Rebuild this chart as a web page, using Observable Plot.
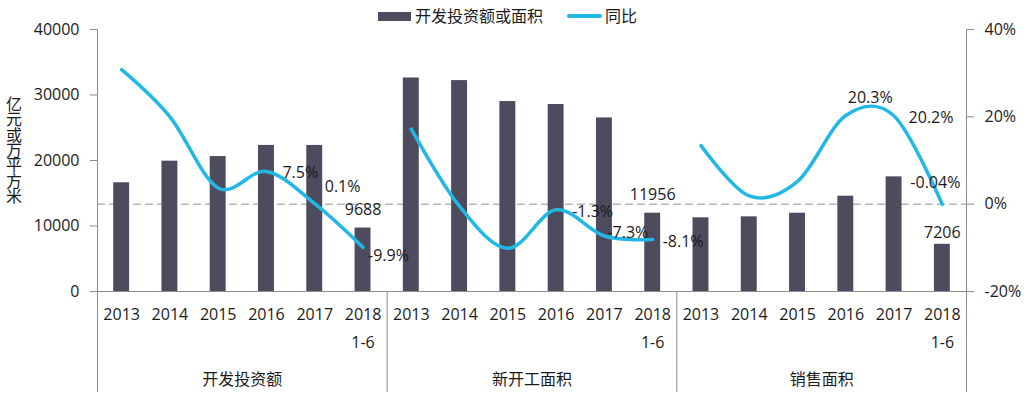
<!DOCTYPE html>
<html>
<head>
<meta charset="utf-8">
<script src="https://cdn.jsdelivr.net/npm/d3@7"></script>
<script src="https://cdn.jsdelivr.net/npm/@observablehq/plot@0.6"></script>
<style>
  html, body { margin: 0; padding: 0; background: #fff; }
  body { font-family: "Open Sans", "Noto Sans CJK SC", sans-serif; color: #1a1a1a; }
  #wrap { position: relative; width: 1030px; height: 399px; overflow: hidden; }
  #wrap svg { position: absolute; left: 0; top: 0; }
  #legend { position: absolute; left: 378px; top: 5px; display: flex; align-items: center; font-size: 16px; line-height: 22px; white-space: nowrap; }
  #legend .bar { display: inline-block; width: 33px; height: 9px; background: #4d4c5e; margin-right: 4px; }
  #legend .ln { display: inline-block; width: 35px; height: 4px; border-radius: 2px; background: #22b8e6; margin-left: 24px; margin-right: 3px; }
  #ytitle { position: absolute; left: 5px; top: 96px; writing-mode: vertical-rl; font-family: "Noto Sans CJK SC", sans-serif; font-size: 16px; line-height: 17px; letter-spacing: -0.7px; }
</style>
</head>
<body>
<div id="wrap">
  <div id="chart"></div>
  <div id="legend"><span class="bar"></span><span>开发投资额或面积</span><span class="ln"></span><span>同比</span></div>
  <div id="ytitle"></div>
</div>
<script>
// ---- data ----
const groups = ["开发投资额", "新开工面积", "销售面积"];
const years = ["2013", "2014", "2015", "2016", "2017", "2018"];
const yearLabels = ["2013", "2014", "2015", "2016", "2017", "2018\n1-6"];
const investValues = [16600, 19900, 20600, 22300, 22300, 9688];
const newStartValues = [32600, 32200, 29000, 28550, 26500, 11956];
const salesValues = [11250, 11400, 11950, 14550, 17500, 7206];
const investYoY = [30.8, 20.0, 3.7, 7.5, 0.1, -9.9];
const newStartYoY = [17.2, -0.5, -10.1, -1.3, -7.3, -8.1];
const salesYoY = [13.4, 1.9, 5.2, 20.3, 20.2, -0.04];
const leftTicks = [0, 10000, 20000, 30000, 40000];
const rightTicks = [-20, 0, 20, 40];
const labeledYoYYears = ["2016", "2017", "2018"];
const labeledBarYears = ["2018"];
const yTitle = "亿元或万平方米";

// ---- layout (label nudges, pixels) ----
const yoyLabelNudge = [[16, 1], [10, -17], [5, 8], [16, 2], [3, -3.5], [10, 2], [2, -18], [14.5, 2], [-32, -21.5]];
const barLabelNudge = [-18.5, -18.7, -11.3];

const W = 1030, H = 399, ML = 97, MR = 64, MT = 29, MB = 108;
const leftMax = leftTicks[leftTicks.length - 1];
const pMin = rightTicks[0], pMax = rightTicks[rightTicks.length - 1];
const pctToY = p => (p - pMin) / (pMax - pMin) * leftMax;
const yToPct = v => Math.round(v / leftMax * (pMax - pMin) + pMin);

const valueSets = [investValues, newStartValues, salesValues];
const yoySets = [investYoY, newStartYoY, salesYoY];
const rows = groups.flatMap((g, gi) => years.map((yr, i) => ({
  key: g + "|" + yr, group: g, year: yr, tick: yearLabels[i],
  value: valueSets[gi][i], pct: yoySets[gi][i], yp: pctToY(yoySets[gi][i])
})));
const keys = rows.map(d => d.key);
const tickOf = Object.fromEntries(rows.map(d => [d.key, d.tick]));
const step = (W - ML - MR) / keys.length;

const yoyLabels = rows.filter(d => labeledYoYYears.includes(d.year));
const barLabels = rows.filter(d => labeledBarYears.includes(d.year));

const font = '"Open Sans", "Noto Sans CJK SC", sans-serif';
const axisGray = "#8c8c8c";

const plot = Plot.plot({
  width: W, height: H,
  marginLeft: ML, marginRight: MR, marginTop: MT, marginBottom: MB,
  style: { fontFamily: font, fontSize: "16px", color: "#1a1a1a", background: "transparent", overflow: "visible" },
  x: { type: "band", domain: keys, paddingInner: 0.67, paddingOuter: 0.335, align: 0.5, round: false, axis: null },
  y: { domain: [0, leftMax], axis: null },
  marks: [
    Plot.ruleY([pctToY(0)], { stroke: "#b5b5b5", strokeWidth: 1.5, strokeDasharray: "8,4" }),
    Plot.barY(rows, { x: "key", y: "value", fill: "#4d4c5e" }),
    Plot.ruleY([0], { stroke: axisGray }),
    Plot.line(rows, { x: "key", y: "yp", z: "group", stroke: "#22b8e6", strokeWidth: 3.5, curve: "cardinal", strokeLinecap: "round" }),
    Plot.axisY(leftTicks, { anchor: "left", tickSize: 7, tickPadding: 11, tickFormat: d => String(d), stroke: axisGray, fontSize: 16, label: null }),
    Plot.axisY(rightTicks.map(pctToY), { anchor: "right", tickSize: 7, tickPadding: 11, tickFormat: d => yToPct(d) + "%", stroke: axisGray, fontSize: 16, label: null }),
    Plot.axisX({ tickSize: 0, tickPadding: 9, tickFormat: k => tickOf[k], lineHeight: 1.75, fontSize: 16, label: null }),
    // axis lines / group separators extending under the category labels
    Plot.ruleX([keys[0]], { x: d => d, dx: -step / 2, insetBottom: -101, stroke: axisGray }),
    Plot.ruleX([keys[keys.length - 1]], { x: d => d, dx: step / 2, insetBottom: -101, stroke: axisGray }),
    Plot.ruleX(groups.slice(1), { x: g => g + "|" + years[0], dx: -step / 2, y1: 0, y2: 0, insetBottom: -101, stroke: axisGray }),
    Plot.text(groups, { x: g => g + "|" + years[2], dx: step / 2, frameAnchor: "bottom", dy: 93, text: d => d, fontSize: 16 }),
    // data labels
    ...barLabels.map((d, i) => Plot.text([d], { x: "key", y: "value", text: r => String(r.value), dy: barLabelNudge[i], fontSize: 16 })),
    ...yoyLabels.map((d, i) => Plot.text([d], { x: "key", y: "yp", text: r => r.pct + "%", textAnchor: "start", dx: yoyLabelNudge[i][0], dy: yoyLabelNudge[i][1], fontSize: 16 }))
  ]
});
document.getElementById("chart").appendChild(plot);
document.getElementById("ytitle").textContent = yTitle;
</script>
</body>
</html>
